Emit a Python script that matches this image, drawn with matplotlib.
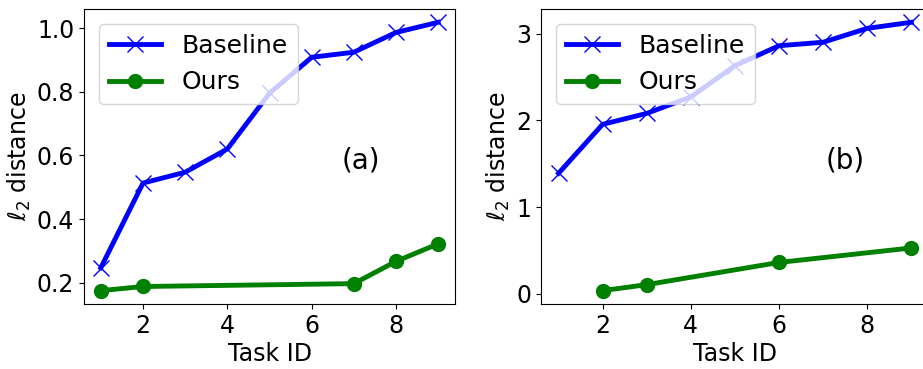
import matplotlib.pyplot as plt

task_base_a = [1, 2, 3, 4, 5, 6, 7, 8, 9]
base_a = [0.247, 0.513, 0.547, 0.62, 0.795, 0.908, 0.924, 0.986, 1.018]
task_ours_a = [1, 2, 7, 8, 9]
ours_a = [0.175, 0.188, 0.197, 0.267, 0.322]

task_base_b = [1, 2, 3, 4, 5, 6, 7, 8, 9]
base_b = [1.39, 1.954, 2.08, 2.27, 2.63, 2.86, 2.90, 3.06, 3.13]
task_ours_b = [2, 3, 6, 9]
ours_b = [0.038, 0.107, 0.363, 0.53]

fs = 17

fig = plt.figure(figsize=(9.23, 3.69), dpi=100)
ax1 = fig.add_axes([0.091, 0.176, 0.402, 0.8])
ax2 = fig.add_axes([0.586, 0.176, 0.4205, 0.8])

panels = [
    (ax1, task_base_a, base_a, task_ours_a, ours_a, '(a)', 0.747),
    (ax2, task_base_b, base_b, task_ours_b, ours_b, '(b)', 0.783),
]
for ax, xb, yb, xo, yo, tag, tx in panels:
    ax.plot(xb, yb, color='b', marker='x', markersize=11, linewidth=3.5,
            label='Baseline')
    ax.plot(xo, yo, color='g', marker='o', markersize=10, linewidth=3.5,
            label='Ours')
    ax.set_xticks([2, 4, 6, 8])
    ax.set_xlim(0.6, 9.4)
    ax.tick_params(labelsize=fs)
    ax.set_xlabel('Task ID', fontsize=fs, labelpad=3)
    ax.set_ylabel(r'$\ell_2$ distance', fontsize=fs, labelpad=3)
    ax.legend(loc='upper left', fontsize=18, handlelength=2.1,
              borderaxespad=0.6)
    ax.text(tx, 0.485, tag, transform=ax.transAxes, fontsize=20,
            ha='center', va='center')

ax1.set_yticks([0.2, 0.4, 0.6, 0.8, 1.0])
ax2.set_yticks([0, 1, 2, 3])

fig.savefig('out.png', dpi=100)
